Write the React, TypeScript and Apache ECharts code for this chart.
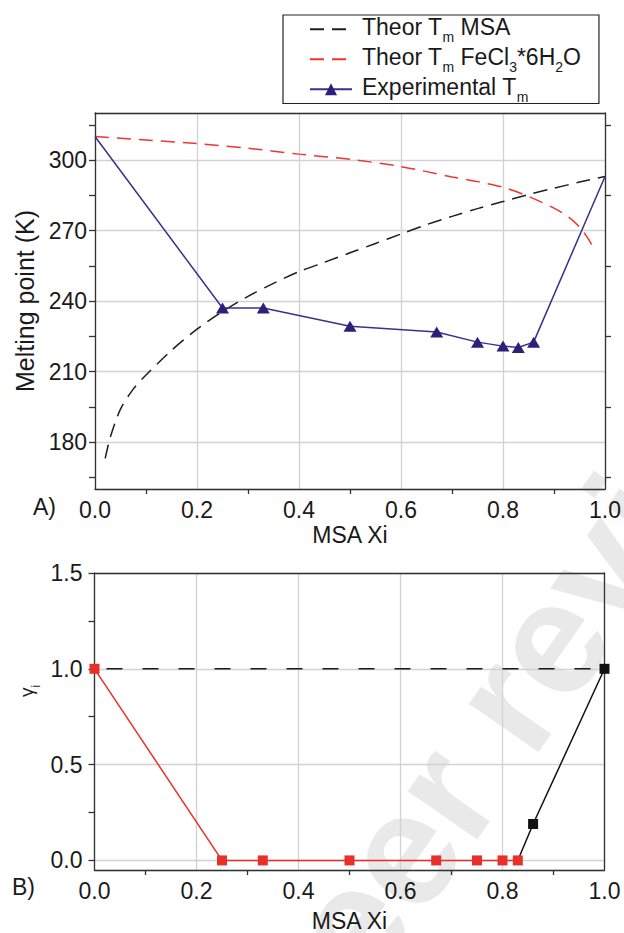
import React, { useEffect, useRef } from 'react';
import * as echarts from 'echarts';

const FONT = '"Liberation Sans", Arial, Helvetica, sans-serif';
const INK = '#1a1a1a';
const AXIS = '#333333';
const GRID = '#d2d2d2';

// ---------- Panel A : melting points ----------
const tempLabels = [180, 210, 240, 270, 300];
const tempTicks = [165, 180, 195, 210, 225, 240, 255, 270, 285, 300, 315];
const tempTicksRight = [165, 195, 225, 255, 285, 315];

const msaX = [0.02, 0.03, 0.05, 0.075, 0.1, 0.15, 0.2, 0.25, 0.3, 0.35, 0.4, 0.45, 0.5, 0.55, 0.6, 0.65, 0.7, 0.75, 0.8, 0.85, 0.9, 0.95, 1.0];
const msaT = [173, 182, 194, 202.5, 208.5, 219, 228, 235.5, 242, 247.5, 252.5, 256.5, 260.5, 264.5, 268.5, 272.5, 276, 279.3, 282.3, 285.3, 288, 290.6, 293];

const fecX = [0, 0.1, 0.2, 0.3, 0.4, 0.5, 0.6, 0.7, 0.75, 0.8, 0.85, 0.9, 0.93, 0.95, 0.97, 0.98];
const fecT = [310, 308.5, 307, 305, 302.5, 300.3, 297.2, 292.8, 290.8, 288.4, 284.5, 279.5, 275.5, 271.5, 265.5, 261];

const expX = [0, 0.25, 0.33, 0.5, 0.67, 0.75, 0.8, 0.83, 0.86, 1.0];
const expT = [310, 237, 237, 229.3, 226.8, 222.5, 220.8, 220.2, 222.5, 293];

// ---------- Panel B : activity coefficients ----------
const gammaLabels = [0, 0.5, 1.0, 1.5];
const gammaTicks = [0, 0.25, 0.5, 0.75, 1.0, 1.25, 1.5];
const redX = [0, 0.25, 0.33, 0.5, 0.67, 0.75, 0.8, 0.83];
const redG = [1.0, 0, 0, 0, 0, 0, 0, 0];
const blackX = [0.83, 0.86, 1.0];
const blackG = [0, 0.19, 1.0];
const idealX = [0, 1];
const idealG = [1, 1];

const S_MSA = 'Theor Tm MSA';
const S_FEC = 'Theor Tm FeCl3*6H2O';
const S_EXP = 'Experimental Tm';

const legendText: Record<string, string> = {
  [S_MSA]: '{n|Theor T}{s|m}{n| MSA}',
  [S_FEC]: '{n|Theor T}{s|m}{n| FeCl}{s|3}{n|*6H}{s|2}{n|O}',
  [S_EXP]: '{n|Experimental T}{s|m}',
};

const axisLineStyle = { color: AXIS, width: 1.3 };

function xMain(gridIndex: number, nameGap: number) {
  return {
    type: 'value', gridIndex, min: 0, max: 1, interval: 0.2, position: 'bottom',
    axisLine: { show: true, onZero: false, lineStyle: axisLineStyle },
    axisTick: { show: false },
    minorTick: { show: true, splitNumber: 2, length: 5, lineStyle: axisLineStyle },
    axisLabel: { fontSize: 23, fontFamily: FONT, color: INK, margin: 9, formatter: (v: number) => v.toFixed(1) },
    splitLine: { show: true, lineStyle: { color: GRID, width: 1.3 } },
    name: 'MSA Xi', nameLocation: 'middle', nameGap,
    nameTextStyle: { fontSize: 23, fontFamily: FONT, color: INK },
  };
}
function xFrame(gridIndex: number) {
  return {
    type: 'value', gridIndex, min: 0, max: 1, position: 'top',
    axisLine: { show: true, onZero: false, lineStyle: axisLineStyle },
    axisTick: { show: false }, axisLabel: { show: false }, splitLine: { show: false },
  };
}

export default function App() {
  const ref = useRef<HTMLDivElement>(null);
  useEffect(() => {
    const chart = echarts.init(ref.current!, null, { renderer: 'svg' });
    const option: any = {
      animation: false,
      backgroundColor: '#ffffff',
      grid: [
        { left: 95, top: 113, width: 511, height: 376 },
        { left: 94.5, top: 573, width: 510, height: 299 },
      ],
      xAxis: [xMain(0, 34), xFrame(0), xMain(1, 39), xFrame(1)],
      yAxis: [
        {
          type: 'value', gridIndex: 0, min: 160, max: 320, position: 'left',
          axisLine: { show: true, onZero: false, lineStyle: axisLineStyle },
          axisTick: { show: true, length: 6, customValues: tempTicks, lineStyle: axisLineStyle },
          axisLabel: { customValues: tempLabels, fontSize: 23, fontFamily: FONT, color: INK, margin: 8 },
          splitLine: { show: false },
          name: 'Melting point (K)', nameLocation: 'middle', nameGap: 54, nameRotate: 90,
          nameTextStyle: { fontSize: 25, fontFamily: FONT, color: INK },
        },
        {
          type: 'value', gridIndex: 0, min: 160, max: 320, position: 'right',
          axisLine: { show: true, onZero: false, lineStyle: axisLineStyle },
          axisTick: { show: true, length: 6, customValues: tempTicksRight, lineStyle: axisLineStyle },
          axisLabel: { show: false }, splitLine: { show: false },
        },
        {
          type: 'value', gridIndex: 0, min: 160, max: 320, splitNumber: 5, position: 'left',
          axisLine: { show: false }, axisTick: { show: false }, axisLabel: { show: false },
          splitLine: { show: true, lineStyle: { color: GRID, width: 1.3 } },
        },
        {
          type: 'value', gridIndex: 1, min: -0.05, max: 1.5, position: 'left',
          axisLine: { show: true, onZero: false, lineStyle: axisLineStyle },
          axisTick: { show: true, length: 6, customValues: gammaTicks, lineStyle: axisLineStyle },
          axisLabel: { customValues: gammaLabels, fontSize: 23, fontFamily: FONT, color: INK, margin: 12, formatter: (v: number) => v.toFixed(1) },
          splitLine: { show: false },
        },
        {
          type: 'value', gridIndex: 1, min: -0.05, max: 1.5, position: 'right',
          axisLine: { show: true, onZero: false, lineStyle: axisLineStyle },
          axisTick: { show: false }, axisLabel: { show: false }, splitLine: { show: false },
        },
        {
          type: 'value', gridIndex: 1, min: -0.05, max: 1.5, splitNumber: 3, position: 'left',
          axisLine: { show: false }, axisTick: { show: false }, axisLabel: { show: false },
          splitLine: { show: true, lineStyle: { color: GRID, width: 1.3 } },
        },
      ],
      legend: {
        show: true, orient: 'vertical', left: 283, top: 15,
        padding: [0, 18, 0, 26], itemGap: 1.5, itemWidth: 42, itemHeight: 15,
        borderColor: '#222', borderWidth: 1.2, backgroundColor: '#ffffff',
        data: [
          { name: S_MSA, itemStyle: { opacity: 0 } },
          { name: S_FEC, itemStyle: { opacity: 0 } },
          { name: S_EXP },
        ],
        formatter: (name: string) => legendText[name] || name,
        textStyle: {
          fontSize: 23, fontFamily: FONT, color: INK, padding: [0, 0, 0, 5],
          rich: {
            n: { fontSize: 23, fontFamily: FONT, color: INK, lineHeight: 24, verticalAlign: 'top' },
            s: { fontSize: 14, fontFamily: FONT, color: INK, lineHeight: 28.5, verticalAlign: 'bottom' },
          },
        },
      },
      graphic: [
        {
          type: 'text', z: -10, x: 262, y: 1050, rotation: (55 * Math.PI) / 180,
          style: { text: 'Peer review', fontSize: 160, fontWeight: 'bold', fontFamily: FONT, fill: '#e9e9e9', align: 'left', verticalAlign: 'middle' },
        },
        { type: 'text', x: 33, y: 507, style: { text: 'A)', fontSize: 23, fontFamily: FONT, fill: INK, align: 'left', verticalAlign: 'middle' } },
        { type: 'text', x: 12, y: 887, style: { text: 'B)', fontSize: 23, fontFamily: FONT, fill: INK, align: 'left', verticalAlign: 'middle' } },
        {
          type: 'text', x: 29, y: 691, rotation: Math.PI / 2,
          style: {
            text: '{g|γ}{s|i}', align: 'center', verticalAlign: 'middle',
            rich: {
              g: { fontSize: 19, fontFamily: FONT, fill: INK, lineHeight: 20, verticalAlign: 'top' },
              s: { fontSize: 12, fontFamily: FONT, fill: INK, lineHeight: 25, verticalAlign: 'bottom' },
            },
          },
        },
      ],
      series: [
        {
          name: S_MSA, type: 'line', xAxisIndex: 0, yAxisIndex: 0, symbol: 'none', smooth: 0.3,
          lineStyle: { color: '#1e1e1e', width: 1.5, type: [14, 8] }, itemStyle: { color: '#1e1e1e' },
          data: msaX.map((x, i) => [x, msaT[i]]), z: 2,
        },
        {
          name: S_FEC, type: 'line', xAxisIndex: 0, yAxisIndex: 0, symbol: 'none', smooth: 0.3,
          lineStyle: { color: '#ee3535', width: 1.5, type: [14, 8] }, itemStyle: { color: '#ee3535' },
          data: fecX.map((x, i) => [x, fecT[i]]), z: 2,
        },
        {
          name: S_EXP, type: 'line', xAxisIndex: 0, yAxisIndex: 0, symbol: 'triangle', symbolSize: [13, 11],
          lineStyle: { color: '#3b2f8e', width: 1.5 }, itemStyle: { color: '#2e1f78' },
          data: expX.map((x, i) => ({ value: [x, expT[i]], symbol: i === 0 || i === expX.length - 1 ? 'none' : 'triangle' })),
          z: 3,
        },
        {
          name: 'ideal', type: 'line', xAxisIndex: 2, yAxisIndex: 3, symbol: 'none',
          lineStyle: { color: '#1a1a1a', width: 1.5, type: [16, 20], dashOffset: -12 },
          data: idealX.map((x, i) => [x, idealG[i]]), z: 2,
        },
        {
          name: 'gamma FeCl3', type: 'line', xAxisIndex: 2, yAxisIndex: 3, symbol: 'rect', symbolSize: 10,
          lineStyle: { color: '#e8302b', width: 1.5 }, itemStyle: { color: '#e8302b' },
          data: redX.map((x, i) => [x, redG[i]]), z: 4,
        },
        {
          name: 'gamma MSA', type: 'line', xAxisIndex: 2, yAxisIndex: 3, symbol: 'rect', symbolSize: 10,
          lineStyle: { color: '#111111', width: 1.5 }, itemStyle: { color: '#111111' },
          data: blackX.map((x, i) => ({ value: [x, blackG[i]], symbol: i === 0 ? 'none' : 'rect' })), z: 3,
        },
      ],
    };
    chart.setOption(option);
    return () => chart.dispose();
  }, []);
  return <div ref={ref} style={{ position: 'absolute', left: 0, top: 0, width: 624, height: 933, background: '#fff' }} />;
}
